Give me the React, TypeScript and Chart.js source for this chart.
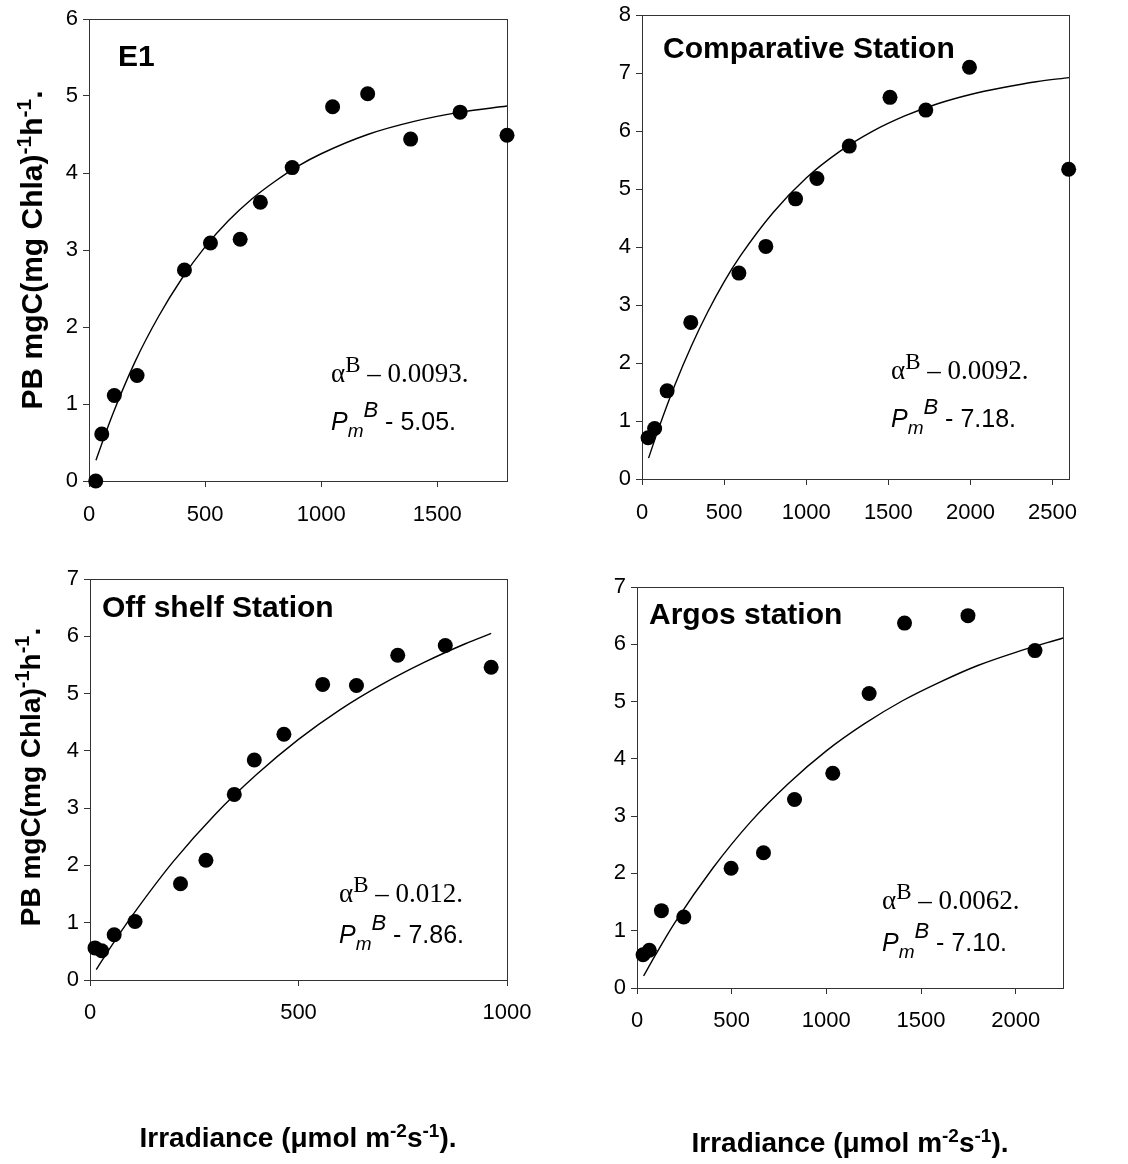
import React, { useEffect, useRef } from "react";
import { Chart, registerables } from "chart.js";

Chart.register(...registerables);

// ---- Station E1 ----
const e1Irradiance = [29, 55, 109, 207, 411, 523, 651, 738, 875, 1049, 1200, 1385, 1598, 1800];
const e1Production = [0.0, 0.61, 1.11, 1.37, 2.74, 3.09, 3.14, 3.62, 4.07, 4.86, 5.03, 4.44, 4.79, 4.49];
const e1FitIrradiance = [30, 100, 200, 300, 400, 500, 600, 700, 800, 900, 1000, 1200, 1400, 1600, 1800];
const e1FitProduction = [0.27, 0.85, 1.56, 2.14, 2.63, 3.04, 3.38, 3.66, 3.89, 4.09, 4.25, 4.5, 4.67, 4.79, 4.87];

// ---- Comparative Station ----
const compIrradiance = [37, 77, 153, 297, 590, 754, 935, 1065, 1262, 1510, 1728, 1994, 2598];
const compProduction = [0.71, 0.87, 1.52, 2.7, 3.55, 4.01, 4.83, 5.18, 5.74, 6.58, 6.36, 7.1, 5.34];
const compFitIrradiance = [40, 100, 200, 300, 400, 500, 600, 800, 1000, 1200, 1400, 1600, 1800, 2000, 2200, 2400, 2600];
const compFitProduction = [0.36, 0.86, 1.62, 2.29, 2.88, 3.4, 3.85, 4.6, 5.19, 5.64, 5.99, 6.26, 6.47, 6.63, 6.75, 6.85, 6.92];

// ---- Off shelf Station ----
const offIrradiance = [12, 28, 58, 108, 217, 278, 346, 394, 465, 558, 639, 738, 852, 962];
const offProduction = [0.56, 0.51, 0.79, 1.02, 1.68, 2.09, 3.24, 3.84, 4.29, 5.16, 5.14, 5.67, 5.84, 5.46];
const offFitIrradiance = [15, 50, 100, 200, 300, 400, 500, 600, 700, 800, 900, 962];
const offFitProduction = [0.18, 0.58, 1.11, 2.07, 2.89, 3.59, 4.2, 4.72, 5.16, 5.54, 5.87, 6.05];

// ---- Argos station ----
const argIrradiance = [32, 65, 129, 247, 497, 668, 832, 1034, 1226, 1413, 1748, 2102];
const argProduction = [0.58, 0.66, 1.35, 1.24, 2.09, 2.36, 3.29, 3.75, 5.14, 6.37, 6.5, 5.89];
const argFitIrradiance = [35, 100, 200, 400, 600, 800, 1000, 1200, 1400, 1600, 1800, 2000, 2250];
const argFitProduction = [0.21, 0.59, 1.14, 2.09, 2.9, 3.57, 4.14, 4.61, 5.01, 5.34, 5.63, 5.86, 6.11];

// Panel titles and fitted parameters
const panelTitles = ["E1", "Comparative Station", "Off shelf Station", "Argos station"];
const alphaValues = ["0.0093", "0.0092", "0.012", "0.0062"];
const pmValues = ["5.05", "7.18", "7.86", "7.10"];

// Axis ranges and tick values
const xMaxima = [1800, 2600, 1000, 2250];
const yMaxima = [6, 8, 7, 7];
const xTickValues = [
  [0, 500, 1000, 1500],
  [0, 500, 1000, 1500, 2000, 2500],
  [0, 500, 1000],
  [0, 500, 1000, 1500, 2000],
];
const yTickValues = [
  [0, 1, 2, 3, 4, 5, 6],
  [0, 1, 2, 3, 4, 5, 6, 7, 8],
  [0, 1, 2, 3, 4, 5, 6, 7],
  [0, 1, 2, 3, 4, 5, 6, 7],
];

const SANS = '"Liberation Sans", Arial, Helvetica, sans-serif';
const SERIF = '"Liberation Serif", "Times New Roman", Times, serif';
const INK = "#000";
const FRAME = "#333";

type Run = { text: string; font: string; dy?: number };

function runsWidth(ctx: CanvasRenderingContext2D, runs: Run[]) {
  let w = 0;
  for (const r of runs) {
    ctx.font = r.font;
    w += ctx.measureText(r.text).width;
  }
  return w;
}

function drawRuns(ctx: CanvasRenderingContext2D, runs: Run[], x: number, y: number) {
  let cx = x;
  for (const r of runs) {
    ctx.font = r.font;
    ctx.fillText(r.text, cx, y + (r.dy || 0));
    cx += ctx.measureText(r.text).width;
  }
}

function yTitleRuns(size: number): Run[] {
  const main = `bold ${size}px ${SANS}`;
  const sup = `bold ${Math.round(size * 0.7)}px ${SANS}`;
  const rise = -Math.round(size * 0.38);
  return [
    { text: "PB mgC(mg Chla)", font: main },
    { text: "-1", font: sup, dy: rise },
    { text: "h", font: main },
    { text: "-1", font: sup, dy: rise },
    { text: ".", font: main },
  ];
}

function xTitleRuns(size: number): Run[] {
  const main = `bold ${size}px ${SANS}`;
  const sup = `bold ${Math.round(size * 0.68)}px ${SANS}`;
  const rise = -Math.round(size * 0.36);
  return [
    { text: "Irradiance (\u03bcmol m", font: main },
    { text: "-2", font: sup, dy: rise },
    { text: "s", font: main },
    { text: "-1", font: sup, dy: rise },
    { text: ").", font: main },
  ];
}

function alphaRuns(value: string): Run[] {
  return [
    { text: "\u03b1", font: `27px ${SERIF}` },
    { text: "B", font: `23px ${SERIF}`, dy: -10 },
    { text: ` \u2013 ${value}.`, font: `27px ${SERIF}` },
  ];
}

function pmRuns(value: string): Run[] {
  return [
    { text: "P", font: `italic 25px ${SANS}` },
    { text: "m", font: `italic 19px ${SANS}`, dy: 7 },
    { text: "B", font: `italic 22px ${SANS}`, dy: -13 },
    { text: ` - ${value}.`, font: `25px ${SANS}` },
  ];
}

type Box = { left: number; top: number; width: number; height: number };
type Area = { left: number; top: number; right: number; bottom: number };

interface PanelSpec {
  index: number;
  obsX: number[];
  obsY: number[];
  fitX: number[];
  fitY: number[];
  box: Box;
  area: Area;
  titleAt: [number, number];
  alphaAt: [number, number];
  pmBaseline: number;
  tickGap: number;
  yTitle?: { x: number; cy: number; size: number };
  xTitle?: { cx: number; baseline: number; size: number };
}

const panels: PanelSpec[] = [
  {
    index: 0,
    obsX: e1Irradiance,
    obsY: e1Production,
    fitX: e1FitIrradiance,
    fitY: e1FitProduction,
    box: { left: 0, top: 0, width: 564, height: 560 },
    area: { left: 89, top: 19, right: 507, bottom: 481 },
    titleAt: [118, 66],
    alphaAt: [331, 382],
    pmBaseline: 430,
    tickGap: 15,
    yTitle: { x: 42, cy: 250, size: 30 },
  },
  {
    index: 1,
    obsX: compIrradiance,
    obsY: compProduction,
    fitX: compFitIrradiance,
    fitY: compFitProduction,
    box: { left: 564, top: 0, width: 564, height: 560 },
    area: { left: 642, top: 15, right: 1069, bottom: 479 },
    titleAt: [663, 58],
    alphaAt: [891, 379],
    pmBaseline: 427,
    tickGap: 15,
  },
  {
    index: 2,
    obsX: offIrradiance,
    obsY: offProduction,
    fitX: offFitIrradiance,
    fitY: offFitProduction,
    box: { left: 0, top: 560, width: 564, height: 604 },
    area: { left: 90, top: 579, right: 507, bottom: 980 },
    titleAt: [102, 617],
    alphaAt: [339, 902],
    pmBaseline: 943,
    tickGap: 14,
    yTitle: { x: 40, cy: 777, size: 28 },
    xTitle: { cx: 298, baseline: 1147, size: 28 },
  },
  {
    index: 3,
    obsX: argIrradiance,
    obsY: argProduction,
    fitX: argFitIrradiance,
    fitY: argFitProduction,
    box: { left: 564, top: 560, width: 564, height: 604 },
    area: { left: 637, top: 587, right: 1063, bottom: 988 },
    titleAt: [649, 624],
    alphaAt: [882, 909],
    pmBaseline: 951,
    tickGap: 14,
    xTitle: { cx: 850, baseline: 1152, size: 28 },
  },
];

function Panel({ spec }: { spec: PanelSpec }) {
  const ref = useRef<HTMLCanvasElement>(null);

  useEffect(() => {
    const canvas = ref.current;
    if (!canvas) return;
    const { box, area, index } = spec;
    const ox = box.left;
    const oy = box.top;

    const framePlugin = {
      id: "frame",
      beforeDatasetsDraw(chart: any) {
        const { ctx, chartArea } = chart;
        ctx.save();
        ctx.strokeStyle = FRAME;
        ctx.lineWidth = 1;
        ctx.strokeRect(
          Math.round(chartArea.left) + 0.5,
          Math.round(chartArea.top) + 0.5,
          Math.round(chartArea.right - chartArea.left),
          Math.round(chartArea.bottom - chartArea.top)
        );
        ctx.restore();
      },
    };

    const textPlugin = {
      id: "panelText",
      afterDraw(chart: any) {
        const ctx: CanvasRenderingContext2D = chart.ctx;
        ctx.save();
        ctx.fillStyle = INK;
        ctx.textBaseline = "alphabetic";
        ctx.textAlign = "left";

        // station name
        ctx.font = `bold 30px ${SANS}`;
        ctx.fillText(panelTitles[index], spec.titleAt[0] - ox, spec.titleAt[1] - oy);

        // fitted parameters
        drawRuns(ctx, alphaRuns(alphaValues[index]), spec.alphaAt[0] - ox, spec.alphaAt[1] - oy);
        drawRuns(ctx, pmRuns(pmValues[index]), spec.alphaAt[0] - ox, spec.pmBaseline - oy);

        // vertical axis title
        if (spec.yTitle) {
          const runs = yTitleRuns(spec.yTitle.size);
          const w = runsWidth(ctx, runs);
          ctx.save();
          ctx.translate(spec.yTitle.x - ox, spec.yTitle.cy - oy);
          ctx.rotate(-Math.PI / 2);
          drawRuns(ctx, runs, -w / 2, 0);
          ctx.restore();
        }

        // horizontal axis title
        if (spec.xTitle) {
          const runs = xTitleRuns(spec.xTitle.size);
          const w = runsWidth(ctx, runs);
          drawRuns(ctx, runs, spec.xTitle.cx - ox - w / 2, spec.xTitle.baseline - oy);
        }
        ctx.restore();
      },
    };

    const tickFont = { family: SANS, size: 22 };

    const chart = new Chart(canvas, {
      type: "scatter",
      data: {
        datasets: [
          {
            label: "fit",
            data: spec.fitX.map((x, i) => ({ x, y: spec.fitY[i] })),
            showLine: true,
            borderColor: INK,
            borderWidth: 1.4,
            pointRadius: 0,
            cubicInterpolationMode: "monotone",
            fill: false,
            clip: false,
            order: 2,
          } as any,
          {
            label: "observed",
            data: spec.obsX.map((x, i) => ({ x, y: spec.obsY[i] })),
            showLine: false,
            pointRadius: 7.5,
            pointBackgroundColor: INK,
            pointBorderWidth: 0,
            pointBorderColor: INK,
            clip: false,
            order: 1,
          } as any,
        ],
      },
      options: {
        responsive: false,
        maintainAspectRatio: false,
        animation: false,
        devicePixelRatio: 1,
        events: [],
        layout: {
          padding: {
            top: area.top - box.top,
            right: box.left + box.width - area.right,
            left: 0,
            bottom: 0,
          },
        },
        plugins: {
          legend: { display: false },
          tooltip: { enabled: false },
          title: { display: false },
        },
        scales: {
          x: {
            type: "linear",
            min: 0,
            max: xMaxima[index],
            afterBuildTicks: (s: any) => {
              s.ticks = xTickValues[index].map((value) => ({ value }));
            },
            ticks: {
              autoSkip: false,
              maxRotation: 0,
              color: INK,
              font: tickFont,
              padding: spec.tickGap,
              callback: (v: any) => String(v),
            },
            grid: {
              display: true,
              drawOnChartArea: false,
              drawTicks: true,
              tickLength: 6,
              color: FRAME,
              lineWidth: 1,
            },
            border: { display: false },
            afterFit: (s: any) => {
              s.height = box.top + box.height - area.bottom;
              s.paddingLeft = 0;
              s.paddingRight = 0;
              s.paddingTop = 0;
              s.paddingBottom = 0;
            },
          },
          y: {
            type: "linear",
            min: 0,
            max: yMaxima[index],
            afterBuildTicks: (s: any) => {
              s.ticks = yTickValues[index].map((value) => ({ value }));
            },
            ticks: {
              autoSkip: false,
              color: INK,
              font: tickFont,
              padding: 5,
              callback: (v: any) => String(v),
            },
            grid: {
              display: true,
              drawOnChartArea: false,
              drawTicks: true,
              tickLength: 6,
              color: FRAME,
              lineWidth: 1,
            },
            border: { display: false },
            afterFit: (s: any) => {
              s.width = area.left - box.left;
              s.paddingLeft = 0;
              s.paddingRight = 0;
              s.paddingTop = 0;
              s.paddingBottom = 0;
            },
          },
        },
      } as any,
      plugins: [framePlugin, textPlugin],
    });

    return () => chart.destroy();
  }, [spec]);

  return (
    <canvas
      ref={ref}
      width={spec.box.width}
      height={spec.box.height}
      style={{
        position: "absolute",
        left: spec.box.left,
        top: spec.box.top,
        width: spec.box.width,
        height: spec.box.height,
      }}
    />
  );
}

export default function App() {
  return (
    <div
      style={{
        position: "absolute",
        left: 0,
        top: 0,
        width: 1128,
        height: 1164,
        background: "#fff",
        overflow: "hidden",
      }}
    >
      {panels.map((p) => (
        <Panel key={p.index} spec={p} />
      ))}
    </div>
  );
}
